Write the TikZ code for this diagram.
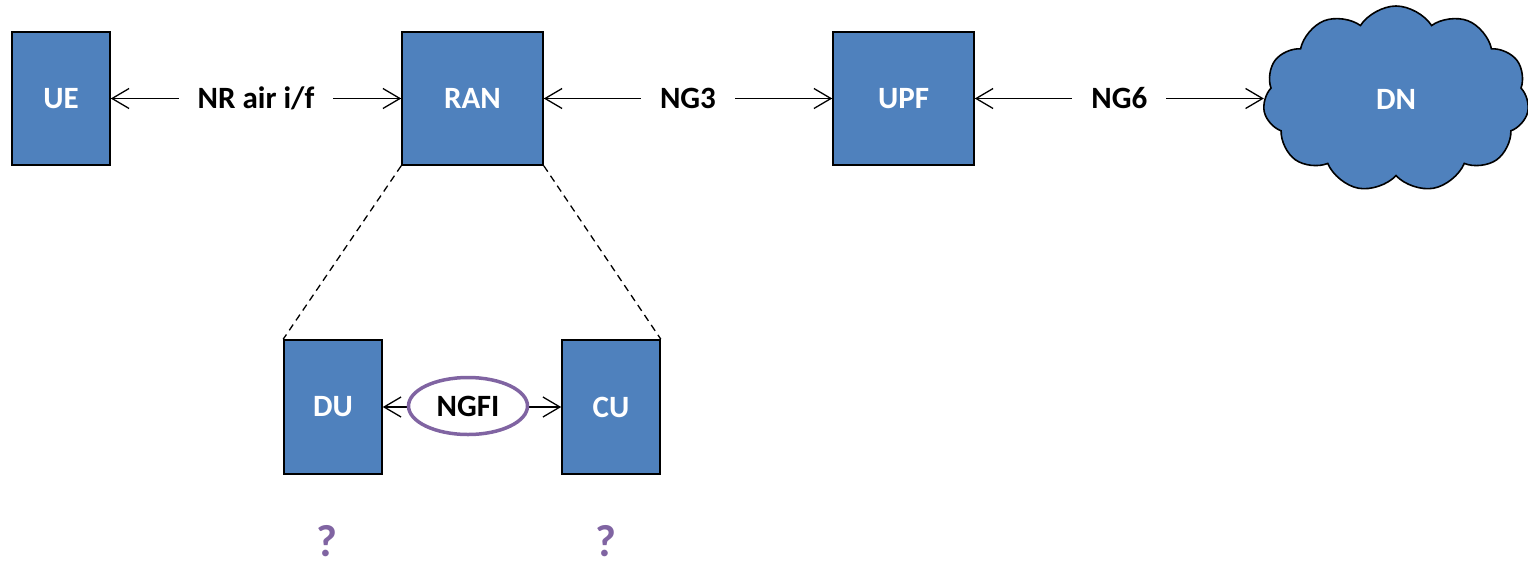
\documentclass[tikz,border=0pt]{standalone}
\usepackage{fontspec}
\setmainfont{Carlito}
\usetikzlibrary{arrows.meta,shapes.geometric,shapes.symbols}
\definecolor{boxblue}{HTML}{4F81BD}
\definecolor{ngpurple}{HTML}{8064A2}
\tikzset{
  bigtext/.style={font=\fontsize{31}{37}\selectfont\bfseries},
  nf/.style={draw=black, line width=1.6pt, fill=boxblue, text=white,
    bigtext, inner sep=0pt},
  narrowbox/.style={nf, minimum width=98pt, minimum height=133pt},
  widebox/.style={nf, minimum width=141pt, minimum height=133pt},
  conn/.style={line width=1.3pt, {Straight Barb[length=17pt,width=20pt]}-{Straight Barb[length=17pt,width=20pt]}},
  lbl/.style={fill=white, text=black, bigtext, inner xsep=19pt, inner ysep=2pt},
  split/.style={line width=1.3pt, dash pattern=on 7pt off 5pt},
  qmark/.style={text=ngpurple, font=\fontsize{45}{48}\selectfont\bfseries,
    inner sep=0pt, anchor=base}
}
\begin{document}
\begin{tikzpicture}[x=1pt,y=-1pt]
\useasboundingbox (0,0) rectangle (1528,565);

% top row: UE -- RAN -- UPF -- DN
\node[narrowbox] (UE)  at (61,98.5)    {UE};
\node[widebox]   (RAN) at (472.5,98.5) {RAN};
\node[widebox]   (UPF) at (903.5,98.5) {UPF};
\node[cloud, cloud puffs=11, cloud puff arc=115, aspect=1.45,
      draw=black, line width=1.6pt, fill=boxblue, text=white, bigtext,
      minimum width=266pt, minimum height=186pt, inner sep=0pt] (DN) at (1396,99) {DN};
\coordinate (dnin) at (DN.west |- UPF.east);

\draw[conn] (UE) -- node[lbl] {NR air i/f} (RAN);
\draw[conn] (RAN) -- node[lbl] {NG3} (UPF);
\draw[conn] (UPF) -- node[lbl] {NG6} (dnin);

% RAN split into DU and CU
\node[narrowbox, minimum height=134pt] (DU) at (333,407) {DU};
\node[narrowbox, minimum height=134pt] (CU) at (611,407) {CU};

\draw[split] (RAN.south west) -- (DU.north west);
\draw[split] (RAN.south east) -- (CU.north east);

\draw[conn] (DU) -- (CU);
\node[ellipse, draw=ngpurple, line width=3.5pt, fill=white, text=black, bigtext,
      minimum width=119pt, minimum height=57pt, inner sep=0pt] (NGFI) at (468,406) {NGFI};

\node[qmark] (qdu) at (327,556) {?};
\node[qmark] (qcu) at (606,556) {?};
\end{tikzpicture}
\end{document}
